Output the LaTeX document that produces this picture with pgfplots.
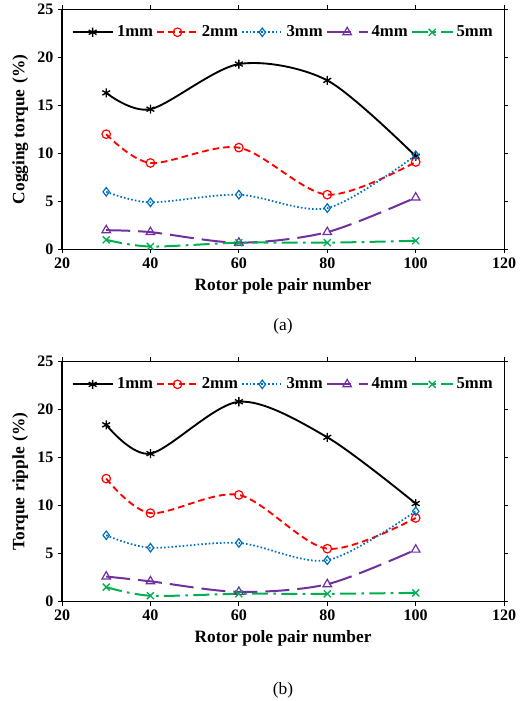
\documentclass[border=0pt]{standalone}
\usepackage{fontspec}
\setmainfont{Liberation Serif}
\usepackage{pgfplots}
\pgfplotsset{compat=1.18}
\usepgfplotslibrary{groupplots}

\definecolor{cblue}{RGB}{0,112,192}
\definecolor{cpurple}{RGB}{112,48,160}
\definecolor{cgreen}{RGB}{0,176,80}

\pgfplotsset{
  s1/.style={black, line width=1.4pt, smooth, mark=asterisk, mark size=3.4pt, mark options={solid, line width=1pt}},
  s2/.style={red, line width=1.4pt, smooth, dash pattern=on 5pt off 3pt, mark=o, mark size=3.2pt, mark options={solid, line width=0.9pt}},
  s3/.style={cblue, line width=1.3pt, smooth, dash pattern=on 1.2pt off 1.6pt, mark=diamond, mark size=3.2pt, mark options={solid, line width=0.9pt}},
  s4/.style={cpurple, line width=1.5pt, smooth, dash pattern=on 18pt off 6pt, mark=triangle, mark size=3.7pt, mark options={solid, line width=0.9pt}},
  s5/.style={cgreen, line width=1.5pt, smooth, dash pattern=on 12pt off 4pt on 2pt off 4pt, mark=x, mark size=3.7pt, mark options={solid, line width=1pt}},
}

\begin{document}
\begin{tikzpicture}
\begin{groupplot}[
  group style={group size=1 by 2, vertical sep=84pt},
  scale only axis, width=331.5pt, height=180pt,
  xmin=20, xmax=120, ymin=0, ymax=25,
  xtick={20,40,...,120}, ytick={0,5,...,25},
  tick align=outside, tick style={black, line width=0.6pt}, major tick length=3pt,
  axis line style={line width=0.8pt},
  /pgf/number format/assume math mode=true,
  tick label style={font=\bfseries\fontsize{12}{14}\selectfont},
  label style={font=\bfseries\fontsize{13}{15}\selectfont},
  xlabel={Rotor pole pair number},
  legend style={font=\bfseries\fontsize{12.5}{14}\selectfont, draw=none, fill=none,
    legend columns=5, at={(0.012,0.955)}, anchor=north west,
    /tikz/every even column/.append style={column sep=0pt},
    /tikz/every odd column/.append style={column sep=0pt},
    nodes={inner xsep=2.5pt}},
  legend cell align=left,
  legend image code/.code={\draw[#1, mark repeat=2, mark phase=2] plot coordinates {(0cm,0cm) (0.53cm,0cm) (1.06cm,0cm)};},
]
\nextgroupplot[ylabel={Cogging torque\,\,(\%)}]
\addplot[s1] coordinates {(30,16.3) (40,14.6) (60,19.3) (80,17.6) (100,9.7)};
\addplot[s2] coordinates {(30,12.0) (40,9.0) (60,10.6) (80,5.7) (100,9.1)};
\addplot[s3] coordinates {(30,6.0) (40,4.9) (60,5.7) (80,4.3) (100,9.8)};
\addplot[s4] coordinates {(30,2.0) (40,1.8) (60,0.7) (80,1.8) (100,5.4)};
\addplot[s5] coordinates {(30,1.0) (40,0.3) (60,0.7) (80,0.7) (100,0.9)};
\legend{1mm,2mm,3mm,4mm,5mm}
\nextgroupplot[ylabel={Torque\,\,ripple\,\,(\%)}]
\addplot[s1] coordinates {(30,18.4) (40,15.4) (60,20.8) (80,17.1) (100,10.2)};
\addplot[s2] coordinates {(30,12.8) (40,9.2) (60,11.1) (80,5.5) (100,8.7)};
\addplot[s3] coordinates {(30,6.9) (40,5.6) (60,6.1) (80,4.3) (100,9.4)};
\addplot[s4] coordinates {(30,2.6) (40,2.1) (60,1.0) (80,1.8) (100,5.4)};
\addplot[s5] coordinates {(30,1.5) (40,0.6) (60,0.8) (80,0.8) (100,0.9)};
\legend{1mm,2mm,3mm,4mm,5mm}
\end{groupplot}
\node[font=\fontsize{13}{15}\selectfont] at ([yshift=-58pt]group c1r1.south) {(a)};
\node[font=\fontsize{13}{15}\selectfont] at ([yshift=-66.5pt]group c1r2.south) {(b)};
\pgfresetboundingbox
\path[use as bounding box] ([xshift=-46.5pt,yshift=7pt]group c1r1.north west) rectangle ([xshift=349.5pt,yshift=-518.6pt]group c1r1.north west);
\end{tikzpicture}
\end{document}
